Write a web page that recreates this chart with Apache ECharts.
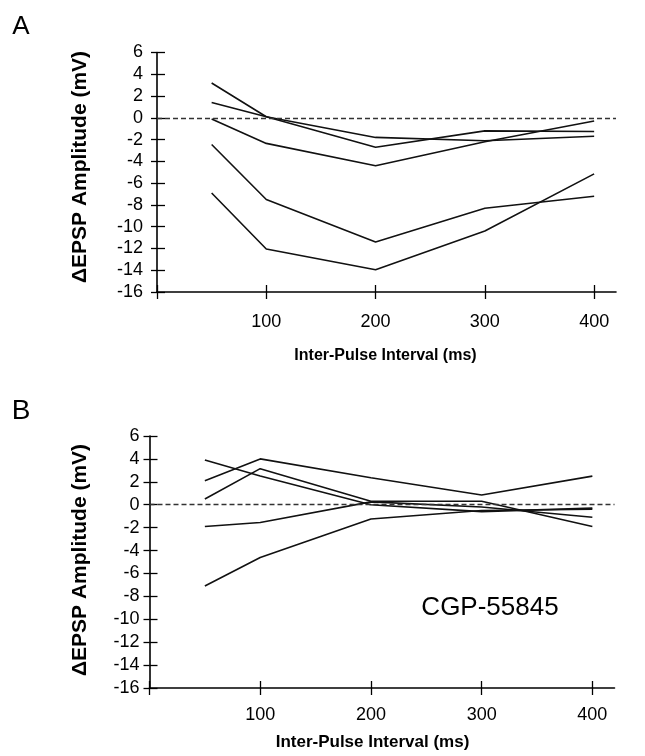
<!DOCTYPE html>
<html>
<head>
<meta charset="utf-8">
<script src="https://cdn.jsdelivr.net/npm/echarts@6/dist/echarts.min.js"></script>
<style>
html,body{margin:0;padding:0;background:#fff;}
#chart{width:645px;height:756px;}
</style>
</head>
<body>
<div id="chart"></div>
<script>
// Inter-pulse intervals (ms)
const intervals = [50, 100, 200, 300, 400];
const xTickValues = [0, 100, 200, 300, 400];
const xTickLabels = [100, 200, 300, 400];

// Panel A: control
const a1 = [3.2, 0.1, -1.8, -2.1, -1.7];
const a2 = [1.4, 0.1, -2.7, -1.2, -1.25];
const a3 = [-0.1, -2.35, -4.4, -2.2, -0.3];
const a4 = [-2.45, -7.5, -11.4, -8.3, -7.2];
const a5 = [-6.9, -12.05, -13.95, -10.4, -5.15];

// Panel B: CGP-55845
const b1 = [3.9, 2.5, 0.0, -0.6, -0.3];
const b2 = [2.1, 4.0, 2.35, 0.85, 2.5];
const b3 = [0.5, 3.15, 0.3, 0.3, -1.9];
const b4 = [-1.9, -1.55, 0.25, -0.2, -1.1];
const b5 = [-7.1, -4.6, -1.25, -0.5, -0.4];

const panelA = [a1, a2, a3, a4, a5];
const panelB = [b1, b2, b3, b4, b5];

const FONT = "'Liberation Sans', Arial, Helvetica, sans-serif";
const chart = echarts.init(document.getElementById('chart'), null, {renderer: 'canvas'});

const grids = [
  {left: 157, right: 29, top: 52.5, height: 239.5},
  {left: 149.5, right: 30.5, top: 436, height: 252}
];

function xAxes(gi, labelMargin) {
  return [
    {
      type: 'value', gridIndex: gi, position: 'bottom', min: 0, max: 420, interval: 100,
      axisLine: {show: true, onZero: false, lineStyle: {color: '#000', width: 1.6}},
      axisTick: {show: true, inside: false, length: 7, customValues: xTickValues, lineStyle: {color: '#000', width: 1.3}},
      axisLabel: {show: true, customValues: xTickLabels, margin: labelMargin, color: '#000', fontSize: 18, fontFamily: FONT},
      splitLine: {show: false}
    },
    {
      type: 'value', gridIndex: gi, position: 'bottom', min: 0, max: 420, interval: 100,
      axisLine: {show: false, onZero: false},
      axisTick: {show: true, inside: true, length: 7, customValues: xTickValues, lineStyle: {color: '#000', width: 1.3}},
      axisLabel: {show: false},
      splitLine: {show: false}
    }
  ];
}

function yAxes(gi, labelMargin) {
  return [
    {
      type: 'value', gridIndex: gi, position: 'left', min: -16, max: 6, interval: 2,
      axisLine: {show: true, onZero: false, lineStyle: {color: '#000', width: 1.6}},
      axisTick: {show: true, inside: false, length: 6, lineStyle: {color: '#000', width: 1.3}},
      axisLabel: {show: true, margin: labelMargin, color: '#000', fontSize: 18, fontFamily: FONT},
      splitLine: {show: false}
    },
    {
      type: 'value', gridIndex: gi, position: 'left', min: -16, max: 6, interval: 2,
      axisLine: {show: false, onZero: false},
      axisTick: {show: true, inside: true, length: 8, lineStyle: {color: '#000', width: 1.3}},
      axisLabel: {show: false},
      splitLine: {show: false}
    }
  ];
}

const series = [];
function addPanel(data, xi, yi) {
  data.forEach((vals, k) => {
    series.push({
      type: 'line', xAxisIndex: xi, yAxisIndex: yi,
      data: intervals.map((x, i) => [x, vals[i]]),
      showSymbol: false, symbol: 'none', silent: true,
      lineStyle: {color: '#111', width: 1.6},
      markLine: k === 0 ? {
        silent: true, symbol: 'none', label: {show: false},
        lineStyle: {color: '#333', width: 1.3, type: [5, 3]},
        data: [[{coord: [0, 0]}, {coord: [420, 0]}]]
      } : undefined
    });
  });
}
addPanel(panelA, 0, 0);
addPanel(panelB, 2, 2);

const option = {
  backgroundColor: '#fff',
  animation: false,
  grid: grids,
  xAxis: [...xAxes(0, 21), ...xAxes(1, 18)],
  yAxis: [...yAxes(0, 14), ...yAxes(1, 10)],
  series: series,
  graphic: [
    {type: 'text', x: 21, y: 27, style: {text: 'A', font: '26px ' + FONT, fill: '#000', align: 'center', verticalAlign: 'middle'}},
    {type: 'text', x: 21, y: 411, style: {text: 'B', font: '28px ' + FONT, fill: '#000', align: 'center', verticalAlign: 'middle'}},
    {type: 'text', x: 80, y: 167, rotation: Math.PI / 2, style: {text: '\u0394EPSP Amplitude (mV)', font: 'bold 21px ' + FONT, fill: '#000', align: 'center', verticalAlign: 'middle'}},
    {type: 'text', x: 80, y: 560, rotation: Math.PI / 2, style: {text: '\u0394EPSP Amplitude (mV)', font: 'bold 21px ' + FONT, fill: '#000', align: 'center', verticalAlign: 'middle'}},
    {type: 'text', x: 385.5, y: 356, style: {text: 'Inter-Pulse Interval (ms)', font: 'bold 16px ' + FONT, fill: '#000', align: 'center', verticalAlign: 'middle'}},
    {type: 'text', x: 372.5, y: 742, style: {text: 'Inter-Pulse Interval (ms)', font: 'bold 17px ' + FONT, fill: '#000', align: 'center', verticalAlign: 'middle'}},
    {type: 'text', x: 490, y: 608, style: {text: 'CGP-55845', font: '26px ' + FONT, fill: '#000', align: 'center', verticalAlign: 'middle'}}
  ]
};
chart.setOption(option);
</script>
</body>
</html>
